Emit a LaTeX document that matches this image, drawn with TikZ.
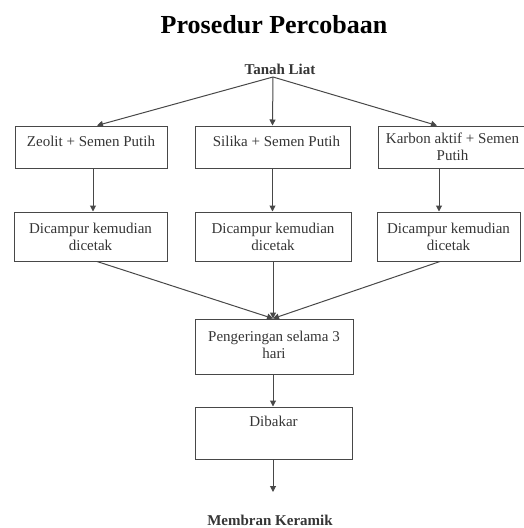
\documentclass[tikz,border=0pt]{standalone}
\usepackage{fontspec}
\setmainfont{Liberation Serif}
\usetikzlibrary{arrows.meta,calc}
\definecolor{lc}{HTML}{484848}
\definecolor{tc}{HTML}{353535}
\begin{document}
\begin{tikzpicture}[x=1pt,y=-1pt,
  box/.style={draw=lc, line width=1pt, inner sep=0pt},
  txt/.style={anchor=north, inner sep=0pt, font=\fontsize{15}{17}\selectfont, text=tc, align=center},
  arr/.style={draw=lc, line width=1pt, -{Triangle[width=6pt,length=6pt]}},
  bold/.style={font=\fontsize{15}{17}\selectfont\bfseries, text=tc, anchor=base, inner sep=0pt}
]
\useasboundingbox (0,0) rectangle (523,528);
% title
\node[font=\fontsize{26}{30}\selectfont\bfseries, anchor=base, inner sep=0pt] (title) at (274,33) {Prosedur Percobaan};
\node[bold] (tl) at (280,74) {Tanah Liat};
\coordinate (tls) at (273,77);
% row 1
\node[box, minimum width=152pt, minimum height=42pt] (b1) at (91,147) {};
\node[box, minimum width=155pt, minimum height=42pt] (b2) at (272.5,147) {};
\node[box, minimum width=149pt, minimum height=42pt] (b3) at (452.5,147) {};
\node[txt] (t1) at ([yshift=-10.75pt]b1.north) {Zeolit + Semen Putih};
\node[txt] (t2) at ([xshift=4pt,yshift=-10.75pt]b2.north) {Silika + Semen Putih};
\node[txt] (t3) at ([yshift=-6.75pt]b3.north) {Karbon aktif + Semen\\Putih};
% row 2
\node[box, minimum width=153pt, minimum height=49pt] (c1) at (90.5,236.5) {};
\node[box, minimum width=156pt, minimum height=49pt] (c2) at (273,236.5) {};
\node[box, minimum width=143pt, minimum height=49pt] (c3) at (448.5,236.5) {};
\node[txt] (u1) at ([yshift=-11pt]c1.north) {Dicampur kemudian\\dicetak};
\node[txt] (u2) at ([yshift=-11pt]c2.north) {Dicampur kemudian\\dicetak};
\node[txt] (u3) at ([yshift=-11pt]c3.north) {Dicampur kemudian\\dicetak};
% drying
\node[box, minimum width=158pt, minimum height=55pt] (d) at (274,346.5) {};
\node[txt] (dt) at ([yshift=-12pt]d.north) {Pengeringan selama 3\\hari};
% burn
\node[box, minimum width=157pt, minimum height=52pt] (e) at (273.5,433) {};
\node[txt] (et) at ([yshift=-9.75pt]e.north) {Dibakar};
% result
\node[bold] (m) at (270,525) {Membran Keramik};
\coordinate (mend) at (273,492);
% connectors
\draw[arr] (tls) -- ([xshift=6pt]b1.north);
\draw[arr] (tls) -- (b2.north);
\draw[arr] (tls) -- ([xshift=-15.5pt]b3.north);
\draw[arr] ([xshift=2pt]b1.south) -- ([xshift=2pt]b1.south |- c1.north);
\draw[arr] (b2.south) -- (b2.south |- c2.north);
\draw[arr] ([xshift=-13.5pt]b3.south) -- ([xshift=-13.5pt]b3.south |- c3.north);
\coordinate (dm) at ([xshift=-1pt]d.north);
\draw[arr] ([xshift=6.5pt]c1.south) -- (dm);
\draw[arr] (c2.south) -- (dm);
\draw[arr] ([xshift=-8.5pt]c3.south) -- (dm);
\draw[arr] ([xshift=-1pt]d.south) -- ([xshift=-1pt]d.south |- e.north);
\draw[arr] ([xshift=-0.5pt]e.south) -- (mend);
\end{tikzpicture}
\end{document}
